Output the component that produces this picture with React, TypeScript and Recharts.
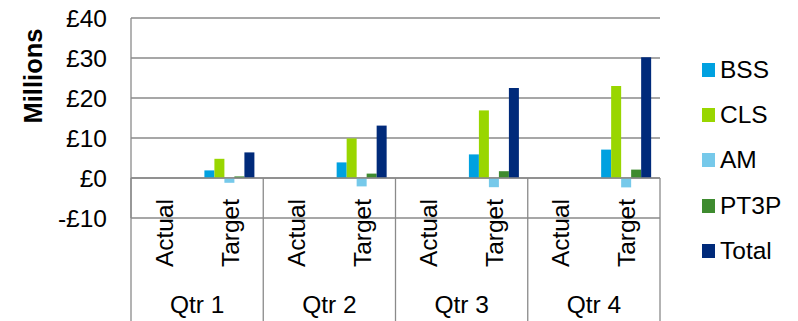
import { Bar, BarChart, CartesianGrid, Legend, ReferenceLine, XAxis, YAxis } from "recharts";

const QUARTERS = ["Qtr 1", "Qtr 2", "Qtr 3", "Qtr 4"];
const PERIODS = ["Actual", "Target"];
const Y_TICKS = [-10, 0, 10, 20, 30, 40];

// £m targets per quarter, no actuals reported yet
const BSS_TARGET = [1.9, 3.9, 5.9, 7.1];
const CLS_TARGET = [4.8, 9.9, 16.9, 23.0];
const AM_TARGET = [-1.2, -2.1, -2.3, -2.35];
const PT3P_TARGET = [0.4, 1.1, 1.7, 2.1];
const TOTAL_TARGET = [6.4, 13.1, 22.5, 30.2];

const SERIES = [
  { key: "BSS", color: "#00A1E0", values: BSS_TARGET },
  { key: "CLS", color: "#99D600", values: CLS_TARGET },
  { key: "AM", color: "#76C9EA", values: AM_TARGET },
  { key: "PT3P", color: "#3E8B2F", values: PT3P_TARGET },
  { key: "Total", color: "#002A7A", values: TOTAL_TARGET },
];

const data = QUARTERS.flatMap((quarter, qi) =>
  PERIODS.map((period) => {
    const row: Record<string, string | number | null> = { id: `${quarter} ${period}`, quarter, period };
    SERIES.forEach((s) => {
      row[s.key] = period === "Target" ? s.values[qi] : null;
    });
    return row;
  })
);

const W = 798;
const H = 321;
const PLOT_LEFT = 131;
const PLOT_RIGHT = 660;
const PLOT_TOP = 18;
const PLOT_BOTTOM = 218;
const BAND = (PLOT_RIGHT - PLOT_LEFT) / data.length;
const ZERO_Y = PLOT_TOP + ((PLOT_BOTTOM - PLOT_TOP) * 40) / 50;

const GRID = "#8A8A8A";
const FONT = "'Liberation Sans', Arial, sans-serif";
const FS = 24.5;

const fmtMoney = (v: number) => (v < 0 ? `-£${-v}` : `£${v}`);

function CategoryTick(props: any) {
  const { x, y, payload } = props;
  const i = payload.index;
  const row = data[i];
  const ly = y + 15;
  return (
    <g>
      <text
        x={x}
        y={ly}
        transform={`rotate(-90 ${x} ${ly})`}
        textAnchor="middle"
        dominantBaseline="central"
        fontSize={FS}
        fontFamily={FONT}
        fill="#000"
      >
        {row.period}
      </text>
      {i % 2 === 0 && (
        <line x1={x - BAND / 2} x2={x - BAND / 2} y1={ZERO_Y} y2={H} stroke={GRID} strokeWidth={1.3} />
      )}
      {i === data.length - 1 && (
        <line x1={x + BAND / 2} x2={x + BAND / 2} y1={ZERO_Y} y2={H} stroke={GRID} strokeWidth={1.3} />
      )}
      {i % 2 === 1 && (
        <text x={x - BAND / 2} y={313} textAnchor="middle" fontSize={FS} fontFamily={FONT} fill="#000">
          {row.quarter}
        </text>
      )}
    </g>
  );
}

function LegendContent() {
  return (
    <div style={{ fontFamily: FONT, fontSize: FS, color: "#000" }}>
      {SERIES.map((s) => (
        <div key={s.key} style={{ display: "flex", alignItems: "center", height: 45.4 }}>
          <span style={{ width: 13, height: 14, background: s.color, marginRight: 5, flexShrink: 0 }} />
          <span>{s.key}</span>
        </div>
      ))}
    </div>
  );
}

export default function App() {
  return (
    <div style={{ position: "absolute", left: 0, top: 0, width: W, height: H, background: "#fff" }}>
      <BarChart
        width={W}
        height={H}
        data={data}
        margin={{ top: PLOT_TOP, right: W - PLOT_RIGHT, bottom: 0, left: 0 }}
        barCategoryGap="11%"
        barGap={0}
      >
        <CartesianGrid vertical={false} stroke={GRID} strokeWidth={1.3} />
        <XAxis
          dataKey="id"
          height={H - PLOT_BOTTOM}
          axisLine={false}
          tickLine={false}
          tickSize={0}
          tickMargin={0}
          interval={0}
          tick={<CategoryTick />}
        />
        <YAxis
          width={PLOT_LEFT}
          domain={[-10, 40]}
          ticks={Y_TICKS}
          tickFormatter={fmtMoney}
          axisLine={{ stroke: GRID, strokeWidth: 1.3 }}
          tickLine={false}
          tickSize={0}
          tickMargin={24}
          tick={{ fontSize: FS, fontFamily: FONT, fill: "#000" }}
          label={{
            content: () => (
              <text
                x={32.5}
                y={76}
                transform="rotate(-90 32.5 76)"
                textAnchor="middle"
                dominantBaseline="central"
                fontSize={25.5}
                fontWeight="bold"
                fontFamily={FONT}
                fill="#000"
              >
                Millions
              </text>
            ),
          }}
        />
        <ReferenceLine y={0} stroke={GRID} strokeWidth={1.3} />
        {SERIES.map((s) => (
          <Bar key={s.key} dataKey={s.key} fill={s.color} isAnimationActive={false} />
        ))}
        <Legend
          layout="vertical"
          align="center"
          verticalAlign="middle"
          wrapperStyle={{ left: 702, top: 47, width: 96 }}
          content={<LegendContent />}
        />
      </BarChart>
    </div>
  );
}
